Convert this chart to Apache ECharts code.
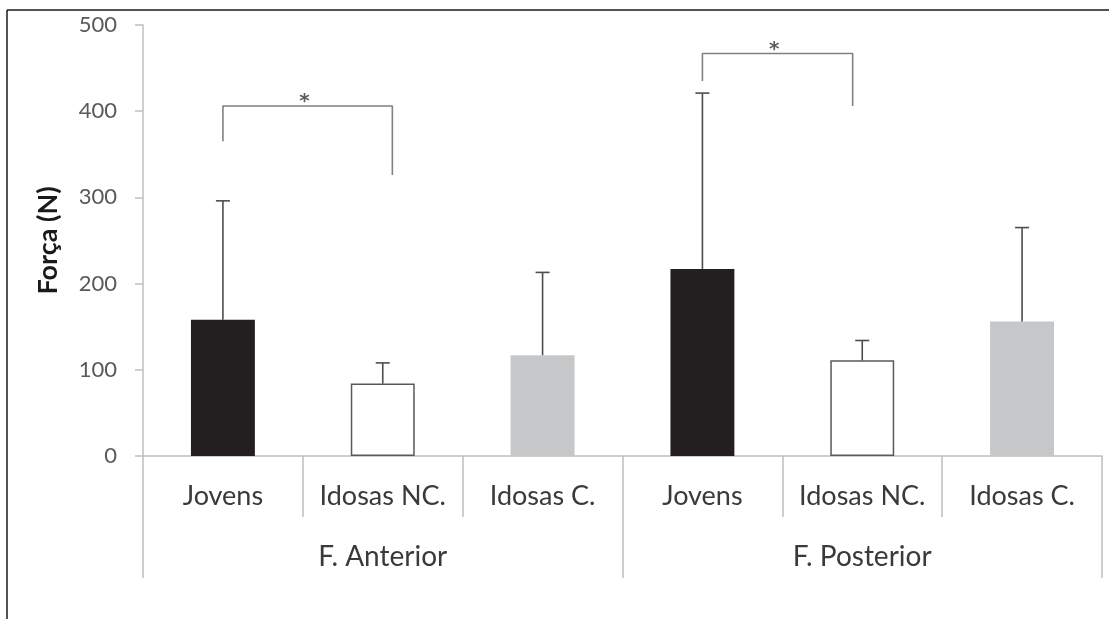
<!DOCTYPE html>
<html>
<head>
<meta charset="utf-8">
<script src="https://cdn.jsdelivr.net/npm/echarts@6/dist/echarts.min.js"></script>
<style>
	html, body { margin: 0; padding: 0; background: #fff; }
	#chart { width: 1109px; height: 619px; }
</style>
</head>
<body>
<div id="chart"></div>
<script>
// dados
let categorias = ['Jovens', 'Idosas NC.', 'Idosas C.', 'Jovens', 'Idosas NC.', 'Idosas C.'];
let grupos = ['F. Anterior', 'F. Posterior'];
let medias = [158, 84, 117, 217, 111, 156];
let desvios = [138, 24, 96, 204, 23, 109];
let yTicks = [0, 100, 200, 300, 400, 500];
// brackets de significância: [x inicio, x fim, y topo, y perna esq, y perna dir] (x em unidades de categoria)
let brackets = [
	[0.5, 1.56, 406, 365, 326],
	[3.5, 4.44, 467, 435, 406]
];

let fills = ['#231f20', '#ffffff', '#c6c7c9'];

function bracketSeries(b) {
	return {
		type: 'line',
		xAxisIndex: 2,
		yAxisIndex: 0,
		symbol: 'none',
		silent: true,
		lineStyle: { color: '#808080', width: 1.6 },
		data: [[b[0], b[3]], [b[0], b[2]], [b[1], b[2]], [b[1], b[4]]],
		z: 5
	};
}

function starSeries(b) {
	return {
		type: 'scatter',
		xAxisIndex: 2,
		yAxisIndex: 0,
		symbolSize: 0,
		silent: true,
		data: [[(b[0] + b[1]) / 2 - 0.02, b[2]]],
		label: {
			show: true,
			formatter: '*',
			position: 'top',
			distance: -6,
			color: '#333',
			fontSize: 20,
			fontWeight: 'bold',
			fontFamily: 'DejaVu Sans'
		},
		z: 6
	};
}

let chart = echarts.init(document.getElementById('chart'));

let option = {
	animation: false,
	backgroundColor: '#fff',
	textStyle: { fontFamily: 'Lato' },
	grid: { left: 143, right: 7, top: 25, bottom: 163, containLabel: false },
	graphic: [
		{ type: 'line', shape: { x1: 7, y1: 10, x2: 7, y2: 619 }, style: { stroke: '#1a1a1a', lineWidth: 1.5 } },
		{ type: 'line', shape: { x1: 7, y1: 10, x2: 1109, y2: 10 }, style: { stroke: '#1a1a1a', lineWidth: 1.5 } }
	],
	xAxis: [
		{
			type: 'category',
			data: categorias,
			position: 'bottom',
			axisLine: { show: true, lineStyle: { color: '#bfbfbf', width: 1.5 } },
			axisTick: { show: true, length: 61, lineStyle: { color: '#bfbfbf', width: 1.5 } },
			axisLabel: { color: '#3a3a3a', fontSize: 27, margin: 27, interval: 0 }
		},
		{
			type: 'category',
			data: grupos,
			position: 'bottom',
			axisLine: { show: false },
			axisTick: { show: true, length: 122, lineStyle: { color: '#bfbfbf', width: 1.5 } },
			axisLabel: { color: '#3a3a3a', fontSize: 28, margin: 87 }
		},
		{
			type: 'value',
			min: 0,
			max: 6,
			show: false
		}
	],
	yAxis: {
		type: 'value',
		min: yTicks[0],
		max: yTicks[yTicks.length - 1],
		interval: 100,
		name: 'Força (N)',
		nameLocation: 'middle',
		nameGap: 81,
		nameRotate: 90,
		nameTextStyle: { color: '#1a1a1a', fontSize: 27, fontWeight: 'bold' },
		axisLine: { show: true, lineStyle: { color: '#bfbfbf', width: 1.5 } },
		axisTick: { show: true, length: 8, lineStyle: { color: '#bfbfbf', width: 1.5 } },
		axisLabel: { color: '#595959', fontSize: 22, margin: 26 },
		splitLine: { show: false }
	},
	series: [
		{
			type: 'bar',
			xAxisIndex: 0,
			barWidth: '40%',
			data: medias.map((v, i) => ({
				value: v,
				itemStyle: {
					color: fills[i % 3],
					borderColor: i % 3 === 1 ? '#595959' : fills[i % 3],
					borderWidth: i % 3 === 1 ? 1.5 : 0
				}
			})),
			z: 2
		},
		{
			type: 'custom',
			xAxisIndex: 0,
			yAxisIndex: 0,
			data: medias.map((v, i) => [i, v, v + desvios[i]]),
			renderItem: function(params, api) {
				let base = api.coord([api.value(0), api.value(1)]);
				let top = api.coord([api.value(0), api.value(2)]);
				let st = { stroke: '#4d4d4d', lineWidth: 1.6 };
				return {
					type: 'group',
					children: [
						{ type: 'line', shape: { x1: base[0], y1: base[1], x2: top[0], y2: top[1] }, style: st },
						{ type: 'line', shape: { x1: top[0] - 7, y1: top[1], x2: top[0] + 7, y2: top[1] }, style: st }
					]
				};
			},
			z: 3
		},
		bracketSeries(brackets[0]),
		bracketSeries(brackets[1]),
		starSeries(brackets[0]),
		starSeries(brackets[1])
	]
};

chart.setOption(option);
</script>
</body>
</html>
